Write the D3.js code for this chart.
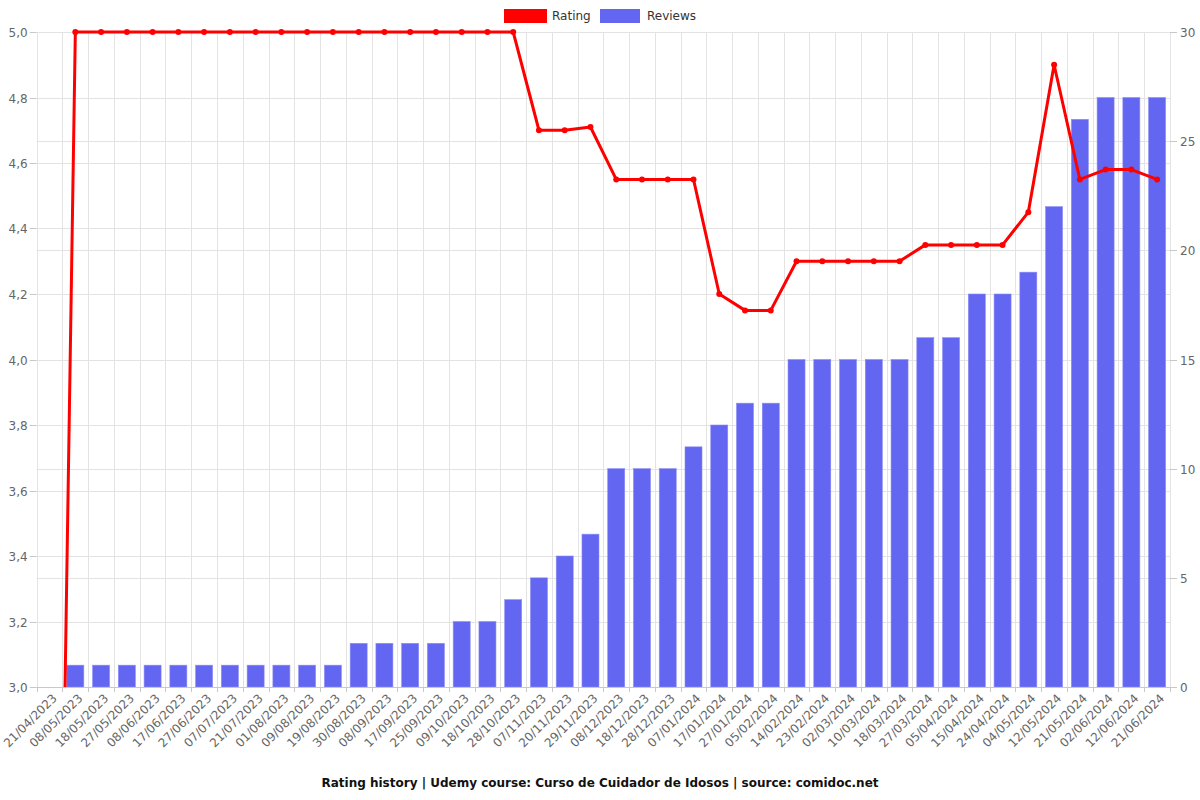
<!DOCTYPE html>
<html>
<head>
<meta charset="utf-8">
<script src="https://cdn.jsdelivr.net/npm/d3@7"></script>
<style>
  body { margin: 0; background: #fff; }
  svg { font-family: "DejaVu Sans", sans-serif; }
</style>
</head>
<body>
<div id="chart"></div>
<script>
// categories (review snapshot dates)
var dates = [
  "21/04/2023", "08/05/2023", "18/05/2023", "27/05/2023", "08/06/2023", "17/06/2023",
  "27/06/2023", "07/07/2023", "21/07/2023", "01/08/2023", "09/08/2023", "19/08/2023",
  "30/08/2023", "08/09/2023", "17/09/2023", "25/09/2023", "09/10/2023", "18/10/2023",
  "28/10/2023", "07/11/2023", "20/11/2023", "29/11/2023", "08/12/2023", "18/12/2023",
  "28/12/2023", "07/01/2024", "17/01/2024", "27/01/2024", "05/02/2024", "14/02/2024",
  "23/02/2024", "02/03/2024", "10/03/2024", "18/03/2024", "27/03/2024", "05/04/2024",
  "15/04/2024", "24/04/2024", "04/05/2024", "12/05/2024", "21/05/2024", "02/06/2024",
  "12/06/2024", "21/06/2024"
];

var ratings = [
  0, 5, 5, 5, 5, 5, 5, 5, 5, 5, 5, 5,
  5, 5, 5, 5, 5, 5, 5, 4.7, 4.7, 4.71, 4.55, 4.55,
  4.55, 4.55, 4.2, 4.15, 4.15, 4.3, 4.3, 4.3, 4.3, 4.3, 4.35, 4.35,
  4.35, 4.35, 4.45, 4.9, 4.55, 4.58, 4.58, 4.55
];

var reviews = [
  0, 1, 1, 1, 1, 1, 1, 1, 1, 1, 1, 1,
  2, 2, 2, 2, 3, 3, 4, 5, 6, 7, 10, 10,
  10, 11, 12, 13, 13, 15, 15, 15, 15, 15, 16, 16,
  18, 18, 19, 22, 26, 27, 27, 27
];

var ratingTicks = [3.0, 3.2, 3.4, 3.6, 3.8, 4.0, 4.2, 4.4, 4.6, 4.8, 5.0];
var reviewTicks = [0, 5, 10, 15, 20, 25, 30];

var titleText = "Rating history | Udemy course: Curso de Cuidador de Idosos | source: comidoc.net";

var width = 1200, height = 800;
var margin = { top: 32, right: 30, bottom: 113, left: 36.7 };

var svg = d3.select("#chart").append("svg")
  .attr("width", width)
  .attr("height", height);

var x = d3.scaleBand()
  .domain(dates)
  .range([margin.left, width - margin.right])
  .padding(0);

var yRating = d3.scaleLinear().domain([3, 5]).range([height - margin.bottom, margin.top]);
var yReviews = d3.scaleLinear().domain([0, 30]).range([height - margin.bottom, margin.top]);

var plotLeft = margin.left, plotRight = width - margin.right;
var plotTop = margin.top, plotBottom = height - margin.bottom;

// grid lines
var grid = svg.append("g").attr("stroke", "#e3e3e3").attr("stroke-width", 1);
ratingTicks.forEach(function (t) {
  var y = Math.round(yRating(t)) + 0.5;
  grid.append("line").attr("x1", plotLeft).attr("x2", plotRight).attr("y1", y).attr("y2", y);
});
reviewTicks.forEach(function (t) {
  var y = Math.round(yReviews(t)) + 0.5;
  grid.append("line").attr("x1", plotLeft).attr("x2", plotRight).attr("y1", y).attr("y2", y);
});
dates.concat([null]).forEach(function (d) {
  var xx = Math.round(d ? x(d) : plotRight) + 0.5;
  grid.append("line").attr("x1", xx).attr("x2", xx).attr("y1", plotTop).attr("y2", plotBottom);
});

// bars
var bw = x.bandwidth();
svg.append("g").selectAll("rect")
  .data(dates)
  .join("rect")
  .attr("x", function (d) { return x(d) + bw * 0.17; })
  .attr("width", bw * 0.66)
  .attr("y", function (d, i) { return yReviews(reviews[i]); })
  .attr("height", function (d, i) { return yReviews(0) - yReviews(reviews[i]); })
  .attr("fill", "#6366f1")
  .attr("stroke", "#8a8cf5")
  .attr("stroke-width", 0.6);

// axes lines + ticks
var axisColor = "#c8c8c8";
svg.append("line")
  .attr("x1", plotLeft).attr("x2", plotRight)
  .attr("y1", plotBottom + 0.5).attr("y2", plotBottom + 0.5)
  .attr("stroke", axisColor);

dates.concat([null]).forEach(function (d) {
  var xx = Math.round(d ? x(d) : plotRight) + 0.5;
  svg.append("line").attr("x1", xx).attr("x2", xx)
    .attr("y1", plotBottom).attr("y2", plotBottom + 5)
    .attr("stroke", axisColor);
});

ratingTicks.forEach(function (t) {
  var y = Math.round(yRating(t)) + 0.5;
  svg.append("line").attr("x1", plotLeft - 7).attr("x2", plotLeft)
    .attr("y1", y).attr("y2", y).attr("stroke", axisColor);
  svg.append("text")
    .attr("x", plotLeft - 9).attr("y", y)
    .attr("dy", "0.35em")
    .attr("text-anchor", "end")
    .attr("font-size", 12)
    .attr("fill", "#666")
    .text(t.toFixed(1).replace(".", ","));
});

reviewTicks.forEach(function (t) {
  var y = Math.round(yReviews(t)) + 0.5;
  svg.append("line").attr("x1", plotRight).attr("x2", plotRight + 7)
    .attr("y1", y).attr("y2", y).attr("stroke", axisColor);
  svg.append("text")
    .attr("x", plotRight + 10).attr("y", y)
    .attr("dy", "0.35em")
    .attr("text-anchor", "start")
    .attr("font-size", 12)
    .attr("fill", "#666")
    .text(t);
});

// x labels, rotated 45 degrees
dates.forEach(function (d) {
  var cx = x(d) + bw / 2;
  svg.append("text")
    .attr("transform", "translate(" + (cx + 5) + "," + (plotBottom + 9) + ") rotate(-45)")
    .attr("text-anchor", "end")
    .attr("dy", "0.35em")
    .attr("font-size", 12)
    .attr("fill", "#666")
    .text(d);
});

// rating line
svg.append("clipPath").attr("id", "plot-clip")
  .append("rect")
  .attr("x", plotLeft).attr("y", plotTop - 6)
  .attr("width", plotRight - plotLeft).attr("height", plotBottom - plotTop + 6);

var line = d3.line()
  .x(function (d, i) { return x(dates[i]) + bw / 2; })
  .y(function (d) { return yRating(d); });

var lineG = svg.append("g").attr("clip-path", "url(#plot-clip)");
lineG.append("path")
  .datum(ratings)
  .attr("d", line)
  .attr("fill", "none")
  .attr("stroke", "#ff0000")
  .attr("stroke-width", 3)
  .attr("stroke-linejoin", "round");

var points = ratings
  .map(function (v, i) { return { date: dates[i], value: v }; })
  .filter(function (p) { return p.value >= 3; });

lineG.selectAll("circle")
  .data(points)
  .join("circle")
  .attr("cx", function (p) { return x(p.date) + bw / 2; })
  .attr("cy", function (p) { return yRating(p.value); })
  .attr("r", 3)
  .attr("fill", "#ff0000");

// legend
var legend = svg.append("g").attr("font-size", 12).attr("fill", "#333");
legend.append("rect").attr("x", 504).attr("y", 9).attr("width", 43).attr("height", 14).attr("fill", "#ff0000");
legend.append("text").attr("x", 552).attr("y", 16).attr("dy", "0.35em").text("Rating");
legend.append("rect").attr("x", 600).attr("y", 9).attr("width", 40).attr("height", 14).attr("fill", "#6366f1");
legend.append("text").attr("x", 647).attr("y", 16).attr("dy", "0.35em").text("Reviews");

// title at bottom
svg.append("text")
  .attr("x", width / 2)
  .attr("y", 783)
  .attr("dy", "0.35em")
  .attr("text-anchor", "middle")
  .attr("font-size", 12)
  .attr("font-weight", "bold")
  .attr("fill", "#111")
  .text(titleText);
</script>
</body>
</html>
